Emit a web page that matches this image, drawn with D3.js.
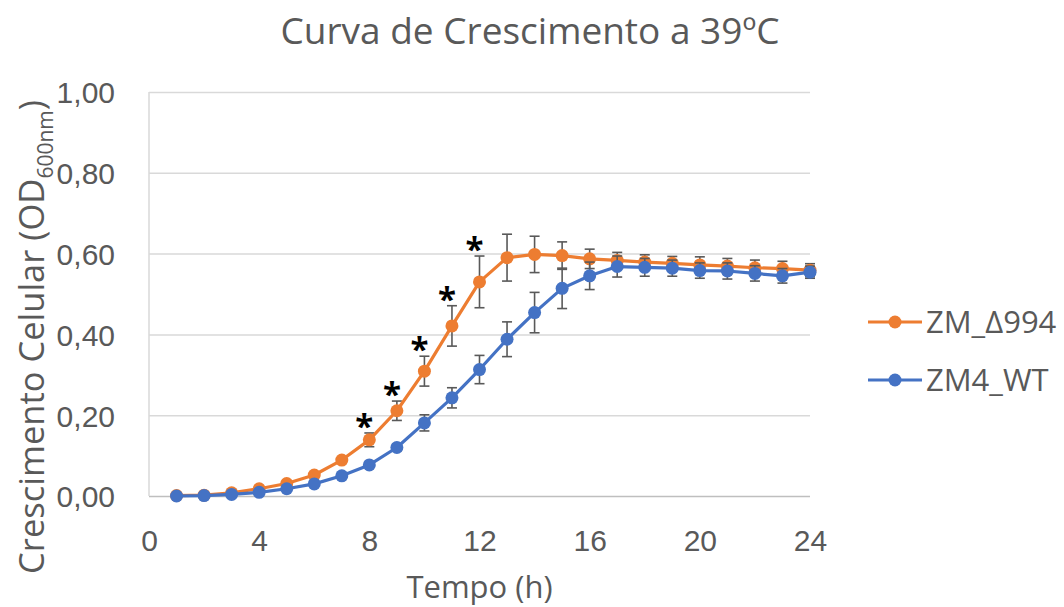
<!DOCTYPE html>
<html>
<head>
<meta charset="utf-8">
<script src="https://cdn.jsdelivr.net/npm/d3@7"></script>
<style>
body{margin:0;background:#fff;}
svg{font-family:"Open Sans",sans-serif;}
.tick text{fill:#595959;font-size:30px;}
.label{fill:#595959;}
</style>
</head>
<body>
<svg></svg>
<script>
// valores
var hours = [1,2,3,4,5,6,7,8,9,10,11,12,13,14,15,16,17,18,19,20,21,22,23,24];
var mutantOD = [0.001,0.002,0.008,0.018,0.031,0.052,0.089,0.139,0.211,0.309,0.421,0.530,0.590,0.598,0.595,0.587,0.583,0.579,0.576,0.572,0.569,0.565,0.563,0.559];
var mutantSD = [0.002,0.002,0.003,0.003,0.004,0.005,0.006,0.017,0.024,0.037,0.050,0.064,0.058,0.045,0.034,0.024,0.020,0.018,0.017,0.020,0.019,0.019,0.018,0.016];
var wtOD = [0.000,0.001,0.004,0.009,0.018,0.030,0.050,0.077,0.120,0.181,0.243,0.313,0.388,0.454,0.514,0.545,0.568,0.566,0.564,0.558,0.557,0.551,0.545,0.554];
var wtSD = [0.001,0.001,0.002,0.002,0.003,0.004,0.005,0.006,0.008,0.020,0.025,0.035,0.043,0.050,0.050,0.034,0.026,0.022,0.020,0.019,0.020,0.019,0.018,0.015];
var starHours = [8,9,10,11,12];
var xTicks = [0,4,8,12,16,20,24];
var yTicks = [0,0.2,0.4,0.6,0.8,1];
var seriesNames = ["ZM_\u0394994","ZM4_WT"];
var seriesColors = ["#ED7D31","#4472C4"];

var makeTranslateString = function(x,y)
{
    return "translate("+x+","+y+")";
}

var makeSeries = function(means,sds)
{
    return hours.map(function(h,i)
    {
        return {hour:h,od:means[i],sd:sds[i]};
    })
}

var drawAxes = function(graph,margins,xScale,yScale)
{
    var svg = d3.select("svg");
    var yAxis = d3.axisLeft(yScale)
        .tickValues(yTicks)
        .tickSize(-graph.width)
        .tickPadding(34)
        .tickFormat(function(d){return d3.format(".2f")(d).replace(".",",");});
    var yg = svg.append("g")
        .attr("transform",makeTranslateString(margins.left,margins.top))
        .call(yAxis)
    yg.select(".domain").remove();
    yg.selectAll(".tick line")
        .attr("stroke",function(d){return d==0 ? "#bfbfbf" : "#d9d9d9";})
        .attr("stroke-width",1.5);
    yg.selectAll(".tick text").attr("dy","0.36em");

    svg.append("line")
        .attr("x1",margins.left).attr("x2",margins.left)
        .attr("y1",margins.top).attr("y2",margins.top+graph.height)
        .attr("stroke","#d9d9d9")
        .attr("stroke-width",1.5);

    var xAxis = d3.axisBottom(xScale)
        .tickValues(xTicks)
        .tickSize(0)
        .tickPadding(34);
    var xg = svg.append("g")
        .attr("transform",makeTranslateString(margins.left,margins.top+graph.height))
        .call(xAxis)
    xg.select(".domain").remove();
}

var drawPlot = function(series,color,target,xScale,yScale)
{
    var bars = target.append("g")
        .selectAll("g")
        .data(series)
        .enter()
        .append("g")
        .attr("stroke","#595959")
        .attr("stroke-width",1.6);
    bars.append("line")
        .attr("x1",function(d){return xScale(d.hour);})
        .attr("x2",function(d){return xScale(d.hour);})
        .attr("y1",function(d){return yScale(d.od-d.sd);})
        .attr("y2",function(d){return yScale(d.od+d.sd);});
    bars.append("line")
        .attr("x1",function(d){return xScale(d.hour)-5;})
        .attr("x2",function(d){return xScale(d.hour)+5;})
        .attr("y1",function(d){return yScale(d.od+d.sd);})
        .attr("y2",function(d){return yScale(d.od+d.sd);});
    bars.append("line")
        .attr("x1",function(d){return xScale(d.hour)-5;})
        .attr("x2",function(d){return xScale(d.hour)+5;})
        .attr("y1",function(d){return yScale(d.od-d.sd);})
        .attr("y2",function(d){return yScale(d.od-d.sd);});

    var line = d3.line()
        .x(function(d){return xScale(d.hour);})
        .y(function(d){return yScale(d.od);});
    target.append("path")
        .datum(series)
        .attr("d",line)
        .attr("fill","none")
        .attr("stroke",color)
        .attr("stroke-width",3.2)
        .attr("stroke-linejoin","round");
    target.append("g")
        .selectAll("circle")
        .data(series)
        .enter()
        .append("circle")
        .attr("cx",function(d){return xScale(d.hour);})
        .attr("cy",function(d){return yScale(d.od);})
        .attr("r",6.5)
        .attr("fill",color);
}

var drawStars = function(series,target,xScale,yScale)
{
    target.append("g")
        .selectAll("text")
        .data(series.filter(function(d){return starHours.indexOf(d.hour)>=0;}))
        .enter()
        .append("text")
        .text("*")
        .attr("text-anchor","middle")
        .attr("font-size",33)
        .attr("font-weight","bold")
        .attr("fill","#000")
        .attr("x",function(d){return xScale(d.hour)-5;})
        .attr("y",function(d){return yScale(d.od+d.sd)+5;});
}

var drawLabels = function(graph,margins)
{
    var labels = d3.select("svg").append("g");
    labels.append("text")
        .text("Curva de Crescimento a 39\u00baC")
        .classed("label",true)
        .attr("font-size",37)
        .attr("text-anchor","middle")
        .attr("x",530)
        .attr("y",44);
    labels.append("text")
        .text("Tempo (h)")
        .classed("label",true)
        .attr("font-size",31)
        .attr("text-anchor","middle")
        .attr("x",margins.left+graph.width/2)
        .attr("y",598);
    var yl = labels.append("g")
        .attr("transform",makeTranslateString(44,337))
        .append("text")
        .classed("label",true)
        .attr("font-size",34.5)
        .attr("text-anchor","middle")
        .attr("transform","rotate(270)");
    yl.append("tspan").text("Crescimento Celular (OD");
    yl.append("tspan").text("600nm").attr("font-size",21).attr("dy",9);
    yl.append("tspan").text(")").attr("dy",-9);
}

var drawLegend = function()
{
    var legend = d3.select("svg")
        .append("g")
        .attr("transform",makeTranslateString(868,322));
    var entries = legend.selectAll("g")
        .data(seriesNames)
        .enter()
        .append("g")
        .attr("transform",function(d,i){return makeTranslateString(0,i*58);});
    entries.append("line")
        .attr("x1",0).attr("x2",54)
        .attr("stroke",function(d,i){return seriesColors[i];})
        .attr("stroke-width",3.2);
    entries.append("circle")
        .attr("cx",27)
        .attr("r",6.5)
        .attr("fill",function(d,i){return seriesColors[i];});
    entries.append("text")
        .text(function(d){return d;})
        .classed("label",true)
        .attr("font-size",31)
        .attr("x",58)
        .attr("y",11);
}

var initGraph = function()
{
    var screen = {width:1064,height:607};
    var margins = {left:149,right:254,top:92,bottom:111};
    var graph =
        {
            width:screen.width-margins.left-margins.right,
            height:screen.height-margins.top-margins.bottom
        }
    d3.select("svg")
        .attr("width",screen.width)
        .attr("height",screen.height);

    var xScale = d3.scaleLinear()
        .domain([0,24])
        .range([0,graph.width]);
    var yScale = d3.scaleLinear()
        .domain([0,1])
        .range([graph.height,0]);

    drawAxes(graph,margins,xScale,yScale);
    var target = d3.select("svg")
        .append("g")
        .attr("id","graph")
        .attr("transform",makeTranslateString(margins.left,margins.top));
    var mutant = makeSeries(mutantOD,mutantSD);
    var wt = makeSeries(wtOD,wtSD);
    drawPlot(mutant,seriesColors[0],target,xScale,yScale);
    drawPlot(wt,seriesColors[1],target,xScale,yScale);
    drawStars(mutant,target,xScale,yScale);
    drawLabels(graph,margins);
    drawLegend();
}

initGraph();
</script>
</body>
</html>
